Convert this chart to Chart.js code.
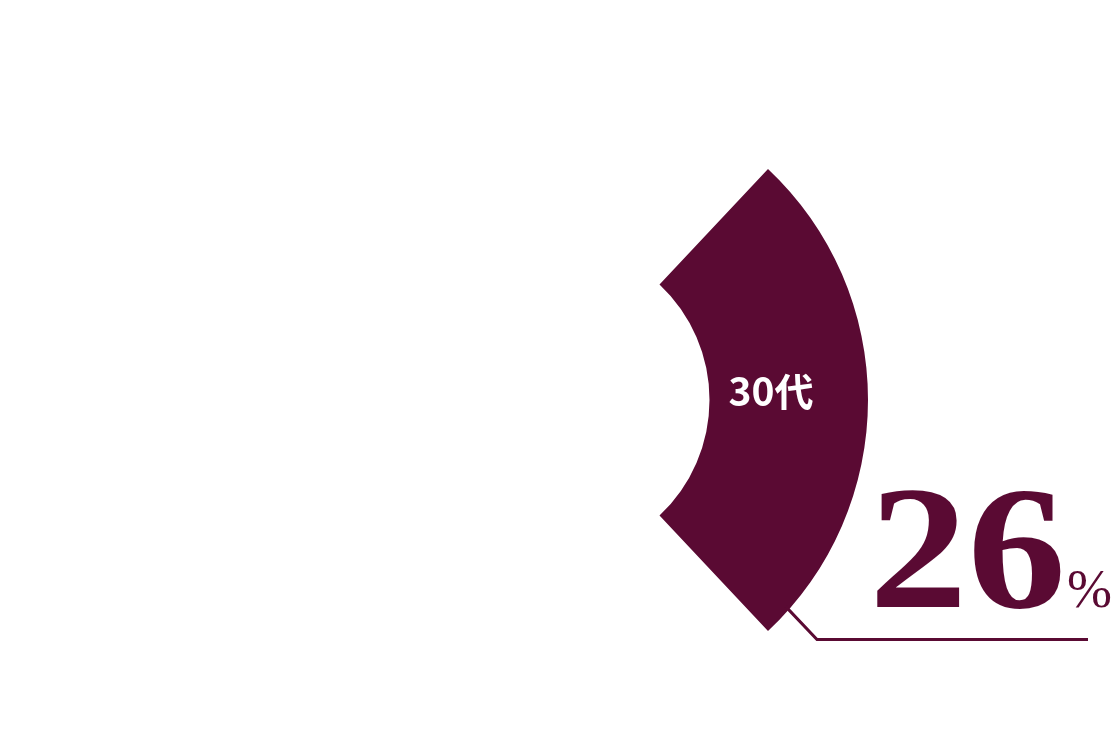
<!DOCTYPE html>
<html>
<head>
<meta charset="utf-8">
<script src="https://cdn.jsdelivr.net/npm/chart.js@4.4.1/dist/chart.umd.min.js"></script>
<style>
html,body{margin:0;padding:0;background:#fff;}
#wrap{width:1116px;height:732px;position:relative;}
</style>
</head>
<body>
<div id="wrap"><canvas id="c"></canvas></div>
<script>
const categories = ['', '30代', ''];
const values = [12, 26, 62];
const highlightLabel = '30代';
const highlightValue = '26';
const highlightUnit = '%';

const MAROON = '#5a0a33';

const labelPlugin = {
  id: 'labelPlugin',
  afterDatasetsDraw(chart) {
    const ctx = chart.ctx;
    const meta = chart.getDatasetMeta(0);
    const arc = meta.data[1];
    const cx = arc.x, cy = arc.y, R = arc.outerRadius;
    ctx.save();
    // in-segment label
    ctx.fillStyle = '#ffffff';
    ctx.font = 'bold 39px "Noto Sans CJK JP"';
    ctx.textAlign = 'center';
    ctx.textBaseline = 'middle';
    ctx.fillText(highlightLabel, cx + 220, cy - 9);
    // leader line
    const th = 131.4 * Math.PI / 180;
    const sx = cx + R * Math.sin(th), sy = cy - R * Math.cos(th);
    ctx.strokeStyle = MAROON;
    ctx.lineWidth = 3;
    ctx.beginPath();
    ctx.moveTo(sx - 3, sy - 3);
    ctx.lineTo(cx + 266, cy + 239.5);
    ctx.lineTo(cx + 537, cy + 239.5);
    ctx.stroke();
    // big value
    ctx.fillStyle = MAROON;
    ctx.textAlign = 'left';
    ctx.textBaseline = 'alphabetic';
    ctx.save();
    ctx.translate(cx + 318, cy + 207);
    ctx.scale(1.12, 1);
    ctx.font = 'bold 176px "Liberation Serif"';
    ctx.fillText(highlightValue, 0, 0);
    ctx.restore();
    ctx.font = '54px "Liberation Serif"';
    ctx.fillText(highlightUnit, cx + 516, cy + 207);
    ctx.restore();
  }
};

new Chart(document.getElementById('c'), {
  type: 'doughnut',
  data: {
    labels: categories,
    datasets: [{
      data: values,
      backgroundColor: ['rgba(0,0,0,0)', MAROON, 'rgba(0,0,0,0)'],
      borderWidth: 0,
      hoverOffset: 0
    }]
  },
  options: {
    responsive: true,
    maintainAspectRatio: false,
    animation: false,
    cutout: '50%',
    rotation: 0,
    layout: { padding: { top: 83, bottom: 15, left: 0, right: 14 } },
    plugins: { legend: { display: false }, tooltip: { enabled: false } },
    events: []
  },
  plugins: [labelPlugin]
});
</script>
</body>
</html>
